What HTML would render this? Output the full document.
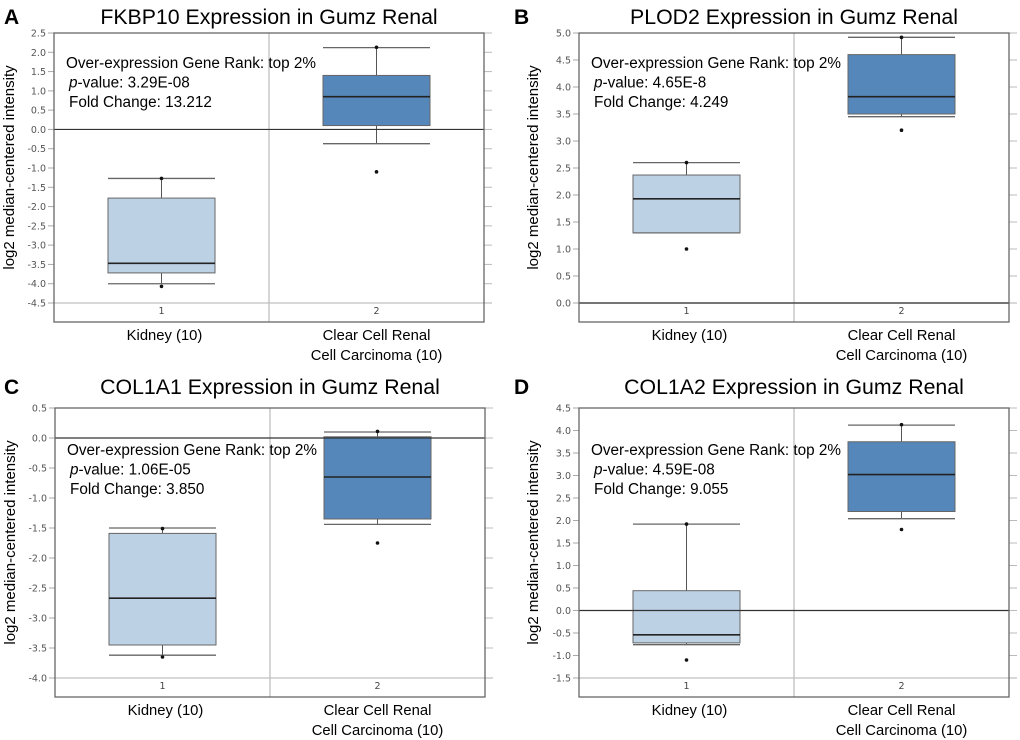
<!DOCTYPE html>
<html><head><meta charset="utf-8"><style>
html,body{margin:0;padding:0;background:#fff;width:1020px;height:740px;overflow:hidden}
svg{display:block}
</style></head><body>
<svg id="fig" width="1020" height="740" xmlns="http://www.w3.org/2000/svg"></svg>
<script>
// Panel data: [whiskerLow, q1, median, q3, whiskerHigh]
const panelLetters = ["A","B","C","D"];
const panelTitles = ["FKBP10 Expression in Gumz Renal","PLOD2 Expression in Gumz Renal","COL1A1 Expression in Gumz Renal","COL1A2 Expression in Gumz Renal"];
const pValues = ["3.29E-08","4.65E-8","1.06E-05","4.59E-08"];
const foldChanges = ["13.212","4.249","3.850","9.055"];
const axisTop = [2.5, 5.0, 0.5, 4.5];
const axisBottom = [-4.5, 0.0, -4.0, -1.5];
const kidneyBox = [[-4.0,-3.72,-3.47,-1.78,-1.27],[1.3,1.3,1.93,2.37,2.6],[-3.62,-3.45,-2.67,-1.59,-1.5],[-0.76,-0.72,-0.54,0.44,1.92]];
const ccrccBox = [[-0.37,0.1,0.85,1.4,2.12],[3.45,3.5,3.82,4.6,4.92],[-1.44,-1.35,-0.65,0.02,0.1],[2.04,2.2,3.02,3.75,4.12]];
const kidneyDots = [[-1.27,-4.07],[2.6,1.0],[-1.51,-3.65],[1.92,-1.1]];
const ccrccDots = [[2.13,-1.1],[4.92,3.2],[0.11,-1.75],[4.13,1.8]];
const categories = ["Kidney (10)","Clear Cell Renal|Cell Carcinoma (10)"];

const NS="http://www.w3.org/2000/svg";
const svg=document.getElementById('fig');
function mk(tag,attrs,parent,text){const e=document.createElementNS(NS,tag);for(const k in attrs)e.setAttribute(k,attrs[k]);if(text!==undefined)e.textContent=text;(parent||svg).appendChild(e);return e;}

const origins=[[0,0],[510,0],[0,370],[510,370]];
const frameLeft=[54,69,55,69];
const topOff=[33,33,38,38];
for(let p=0;p<4;p++){
  const ox=origins[p][0], oy=origins[p][1];
  const g=mk('g',{});
  
  
  const L=ox+frameLeft[p], T=oy+topOff[p], W=430, H=289, R=L+W, B=T+H;
  const y=v=>T+(axisTop[p]-v)/(axisTop[p]-axisBottom[p])*270;
  const xc=i=>L+W*(0.25+0.5*i);
  const lt=mk('text',{x:ox+4,y:oy+24,'font-family':'Liberation Sans, sans-serif','font-size':21,'font-weight':'bold',fill:'#000'},g,panelLetters[p]);
  
  const tt=mk('text',{x:(L+R)/2,y:oy+24,'text-anchor':'middle','font-family':'Liberation Sans, sans-serif','font-size':21.3,fill:'#000'},g,panelTitles[p]);
  
  const n=Math.round((axisTop[p]-axisBottom[p])/0.5);
  for(let i=0;i<=n;i++){
    const v=axisTop[p]-i*0.5, yy=y(v);
    mk('line',{x1:L-6,x2:L,y1:yy,y2:yy,stroke:'#aaa','stroke-width':1},g);
    mk('line',{x1:R,x2:R+8,y1:yy,y2:yy,stroke:'#bbb','stroke-width':1},g);
    const lb=mk('text',{x:L-8,y:yy+3.5,'text-anchor':'end','font-family':'DejaVu Sans, sans-serif','font-size':9.5,fill:'#555'},g,v.toFixed(1));
    
  }
  mk('line',{x1:L,x2:R+8,y1:y(axisBottom[p]),y2:y(axisBottom[p]),stroke:'#ccc','stroke-width':1.5},g);
  mk('line',{x1:(L+R)/2,x2:(L+R)/2,y1:T,y2:B,stroke:'#bbb','stroke-width':1.2},g);
  const boxes=[kidneyBox[p],ccrccBox[p]], dots=[kidneyDots[p],ccrccDots[p]];
  const fills=['#bdd1e5','#5587ba'];
  for(let i=0;i<2;i++){
    const b=boxes[i], cx=xc(i), hw=53.5;
    mk('line',{x1:cx,x2:cx,y1:y(b[4]),y2:y(b[0]),stroke:'#555','stroke-width':1},g);
    mk('line',{x1:cx-hw,x2:cx+hw,y1:y(b[4]),y2:y(b[4]),stroke:'#666','stroke-width':1.3},g);
    mk('line',{x1:cx-hw,x2:cx+hw,y1:y(b[0]),y2:y(b[0]),stroke:'#666','stroke-width':1.3},g);
    const r=mk('rect',{x:cx-hw,y:y(b[3]),width:2*hw,height:y(b[1])-y(b[3]),fill:fills[i],stroke:'#666','stroke-width':1},g);
    
    mk('line',{x1:cx-hw,x2:cx+hw,y1:y(b[2]),y2:y(b[2]),stroke:'#222','stroke-width':1.6},g);
    for(const d of dots[i]){const c=mk('circle',{cx:cx,cy:y(d),r:1.8,fill:'#111'},g);
      }
    const nl=mk('text',{x:cx,y:B-8,'text-anchor':'middle','font-family':'DejaVu Sans, sans-serif','font-size':9.5,fill:'#444'},g,String(i+1));
    
    const lines=categories[i].split('|');
    lines.forEach((s,k)=>{const c=mk('text',{x:cx+(i===0?3:0),y:B+18+k*20,'text-anchor':'middle','font-family':'Liberation Sans, sans-serif','font-size':14.8,fill:'#000'},g,s);
      });
  }
  if(axisTop[p]>0&&axisBottom[p]<0||axisBottom[p]===0){
    mk('line',{x1:L,x2:R,y1:y(0),y2:y(0),stroke:'#333','stroke-width':1.2},g);
  }
  const fr=mk('rect',{x:L,y:T,width:W,height:H,fill:'none',stroke:'#666','stroke-width':1.3},g);
  
  const ay=(p<2?oy+68:oy+85), ax=L+12;
  const a1=mk('text',{x:ax,y:ay,'font-family':'Liberation Sans, sans-serif','font-size':15.3,fill:'#000'},g,'Over-expression Gene Rank: top 2%');
  
  const a2=mk('text',{x:ax+3,y:ay+19.5,'font-family':'Liberation Sans, sans-serif','font-size':15.3,fill:'#000'},g);
  
  mk('tspan',{'font-style':'italic'},a2,'p');mk('tspan',{},a2,'-value: '+pValues[p]);
  const a3=mk('text',{x:ax+3,y:ay+39,'font-family':'Liberation Sans, sans-serif','font-size':15.3,fill:'#000'},g,'Fold Change: '+foldChanges[p]);
  
  const yx=L-(p%2===0?40:41), ym=(T+B)/2-10;
  const yt=mk('text',{x:yx,y:ym,'text-anchor':'middle','font-family':'Liberation Sans, sans-serif','font-size':15,fill:'#000',transform:'rotate(-90 '+yx+' '+ym+')'},g,'log2 median-centered intensity');
  
}
</script>
</body></html>
